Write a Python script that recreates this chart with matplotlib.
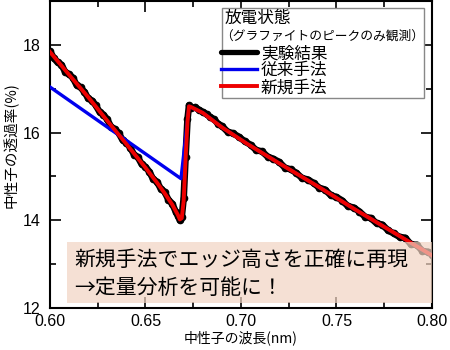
import matplotlib
matplotlib.use("Agg")
import matplotlib.pyplot as plt
from matplotlib.patches import Rectangle
from matplotlib.ticker import MultipleLocator

plt.rcParams['font.family'] = ['Liberation Sans', 'Noto Sans CJK JP', 'DejaVu Sans']
CJK = ['Noto Sans CJK JP', 'DejaVu Sans']

# Experimental data (black)
x_exp = [0.600, 0.602, 0.604, 0.606, 0.608, 0.610, 0.612, 0.614, 0.616, 0.618,
         0.620, 0.622, 0.624, 0.626, 0.628, 0.630, 0.632, 0.634, 0.636, 0.638,
         0.640, 0.642, 0.644, 0.646, 0.648, 0.650, 0.652, 0.654, 0.656, 0.658,
         0.660, 0.662, 0.664, 0.666, 0.667, 0.668, 0.669, 0.670, 0.671, 0.672,
         0.6728, 0.674, 0.676, 0.678, 0.680, 0.682, 0.684, 0.686, 0.688, 0.690,
         0.693, 0.696, 0.699, 0.702, 0.705, 0.708, 0.711, 0.714, 0.717, 0.720,
         0.723, 0.726, 0.729, 0.732, 0.735, 0.738, 0.741, 0.744, 0.747, 0.750,
         0.753, 0.756, 0.759, 0.762, 0.765, 0.768, 0.771, 0.774, 0.777, 0.780,
         0.783, 0.786, 0.789, 0.792, 0.795, 0.798, 0.800]
y_exp = [17.86, 17.70, 17.60, 17.55, 17.38, 17.33, 17.25, 17.08, 17.03, 16.93,
         16.78, 16.73, 16.62, 16.47, 16.41, 16.30, 16.13, 16.08, 15.99, 15.83,
         15.77, 15.66, 15.50, 15.44, 15.28, 15.22, 15.11, 14.94, 14.88, 14.72,
         14.65, 14.47, 14.38, 14.18, 14.10, 14.00, 14.08, 14.50, 15.45, 16.30,
         16.62, 16.55, 16.58, 16.52, 16.47, 16.42, 16.35, 16.30, 16.20, 16.15,
         16.02, 15.98, 15.90, 15.80, 15.72, 15.60, 15.57, 15.45, 15.40, 15.33,
         15.20, 15.16, 15.08, 14.96, 14.93, 14.85, 14.74, 14.70, 14.57, 14.53,
         14.45, 14.32, 14.29, 14.20, 14.08, 14.05, 13.93, 13.90, 13.77, 13.70,
         13.62, 13.60, 13.45, 13.44, 13.30, 13.28, 13.22]

# Conventional method (blue)
x_old = [0.600, 0.6686, 0.6728, 0.680, 0.690, 0.703, 0.720, 0.740, 0.760, 0.780, 0.800]
y_old = [17.04, 14.95, 16.60, 16.45, 16.12, 15.75, 15.30, 14.78, 14.24, 13.72, 13.20]

# New method (red)
x_new = [0.600, 0.610, 0.620, 0.630, 0.640, 0.650, 0.656, 0.660, 0.664, 0.667,
         0.668, 0.669, 0.670, 0.671, 0.672, 0.6728, 0.674, 0.680, 0.690, 0.703,
         0.720, 0.740, 0.760, 0.780, 0.800]
y_new = [17.84, 17.32, 16.81, 16.27, 15.74, 15.20, 14.86, 14.62, 14.36, 14.12,
         14.02, 14.05, 14.45, 15.40, 16.25, 16.60, 16.58, 16.45, 16.12, 15.75,
         15.30, 14.78, 14.24, 13.72, 13.20]

labels = ['実験結果', '従来手法', '新規手法']
legend_title = '放電状態'
legend_sub = '（グラファイトのピークのみ観測）'
note_lines = ['新規手法でエッジ高さを正確に再現', '→定量分析を可能に！']
xlabel = '中性子の波長(nm)'
ylabel = '中性子の透過率(%)'

fig = plt.figure(figsize=(4.5, 3.5), dpi=100)
ax = fig.add_axes([0.111, 0.12, 0.849, 0.877])

l_exp, = ax.plot(x_exp, y_exp, color='black', lw=4.8, marker='o', ms=4.5,
                 solid_joinstyle='round', solid_capstyle='round', zorder=2)
l_old, = ax.plot(x_old, y_old, color='#0000ee', lw=2.4, zorder=3)
l_new, = ax.plot(x_new, y_new, color='#ee0000', lw=2.8, zorder=4)

ax.set_xlim(0.60, 0.80)
ax.set_ylim(12, 19)
ax.xaxis.set_major_locator(MultipleLocator(0.05))
ax.xaxis.set_minor_locator(MultipleLocator(0.025))
ax.yaxis.set_major_locator(MultipleLocator(2))
ax.yaxis.set_minor_locator(MultipleLocator(1))
ax.set_xticklabels([f'{v:.2f}' for v in ax.get_xticks()])
ax.tick_params(which='both', direction='in', top=True, right=True, width=1.2,
               labelsize=11.5)
ax.tick_params(which='major', length=8)
ax.tick_params(which='minor', length=4)
ax.tick_params(axis='y', pad=7)
ax.tick_params(axis='x', pad=4)
for s in ax.spines.values():
    s.set_linewidth(1.5)

ax.set_xlabel(xlabel, family=CJK, fontsize=10, labelpad=1)
ax.set_ylabel(ylabel, family=CJK, fontsize=10.5)
ax.yaxis.set_label_coords(-0.082, 0.53)

# Legend box
ax.add_patch(Rectangle((0.450, 0.684), 0.529, 0.293, transform=ax.transAxes,
                       facecolor='white', edgecolor='#888888', lw=1.0, zorder=6))
ax.text(0.457, 0.943, legend_title, transform=ax.transAxes, family=CJK,
        fontsize=12, va='center', ha='left', zorder=7)
ax.text(0.446, 0.884, legend_sub, transform=ax.transAxes, family=CJK,
        fontsize=9.2, va='center', ha='left', zorder=7)
leg = ax.legend([l_exp, l_old, l_new], labels, loc='upper left',
                bbox_to_anchor=(0.447, 0.856), frameon=False, borderpad=0,
                borderaxespad=0, handlelength=2.2, handletextpad=0.2,
                labelspacing=0.0, prop={'family': CJK, 'size': 12})
leg.set_zorder(8)
for h in leg.legend_handles:
    h.set_marker('')
    if h.get_linewidth() > 3:
        h.set_linewidth(3.8)

# Annotation box
ax.add_patch(Rectangle((0.0445, 0.016), 0.9555, 0.199, transform=ax.transAxes,
                       facecolor=(0.95, 0.83, 0.76), alpha=0.7, edgecolor='none',
                       zorder=5))
ax.text(0.063, 0.156, note_lines[0], transform=ax.transAxes, family=CJK,
        fontsize=15, va='center', ha='left', zorder=7)
ax.text(0.063, 0.065, note_lines[1], transform=ax.transAxes, family=CJK,
        fontsize=15, va='center', ha='left', zorder=7)

fig.savefig('out.png', dpi=100)
